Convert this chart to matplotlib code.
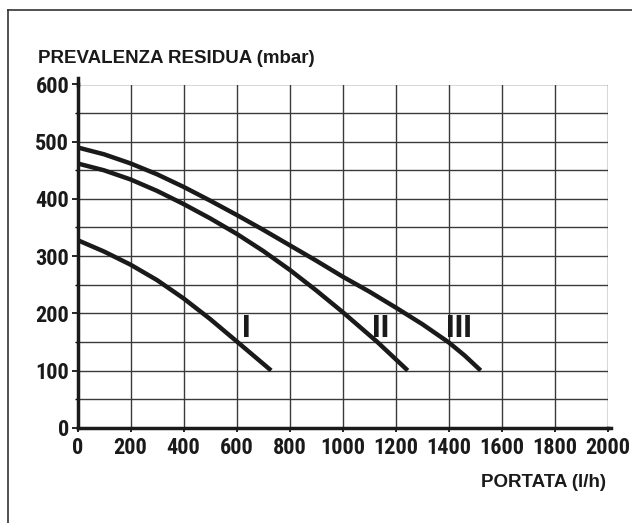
import matplotlib.pyplot as plt
from matplotlib.lines import Line2D
from matplotlib import font_manager as fm

# curve data (portata l/h, prevalenza mbar)
x_I = [0, 100, 200, 300, 400, 500, 600, 730]
y_I = [328, 308, 285, 258, 226, 190, 151, 100]

x_II = [0, 100, 200, 300, 400, 500, 600, 700, 800, 900, 1000, 1130, 1245]
y_II = [462, 450, 434, 414, 391, 366, 339, 309, 276, 240, 202, 150, 100]

x_III = [0, 100, 200, 300, 400, 500, 600, 700, 800, 900, 1000, 1100, 1200, 1300, 1400, 1460, 1520]
y_III = [490, 478, 462, 443, 421, 397, 372, 346, 319, 292, 264, 238, 210, 181, 149, 126, 100]

speed_labels = ["I", "II", "III"]
label_x = [636, 1143, 1438]
label_y = [174, 174, 174]

x_ticks = list(range(0, 2001, 200))
y_ticks = list(range(0, 601, 100))


def pick_narrow():
    # look for a condensed bold face among the installed fonts
    names = set(f.name for f in fm.fontManager.ttflist)
    for n in ["Liberation Sans Narrow", "Roboto Condensed", "Open Sans Condensed",
              "DejaVu Sans Condensed", "Noto Sans Condensed"]:
        if n in names:
            return dict(family=[n, "DejaVu Sans"], stretch="normal")
    for f in fm.fontManager.ttflist:
        if f.stretch in ("condensed", "semi-condensed", "extra-condensed") and f.weight in (600, 700, "bold"):
            return dict(family=[f.name, "DejaVu Sans"], stretch=f.stretch)
    return dict(family=["DejaVu Sans"], stretch="condensed")


nf = pick_narrow()
plain = ["Liberation Sans", "DejaVu Sans"]

fig = plt.figure(figsize=(6.32, 5.23), dpi=100)
ax = fig.add_axes([77.5 / 632, 1 - 427.7 / 523, (608 - 77.5) / 632, (427.7 - 84.5) / 523])

for xs, ys in [(x_I, y_I), (x_II, y_II), (x_III, y_III)]:
    ax.plot(xs, ys, color="#1a1a1a", lw=3.2, solid_capstyle="butt",
            solid_joinstyle="round", zorder=3)

for lab, lx, ly in zip(speed_labels, label_x, label_y):
    ax.text(lx, ly, lab, family=nf["family"], stretch=nf["stretch"], weight="bold",
            fontsize=23, ha="center", va="center", color="#1a1a1a")

ax.set_xlim(0, 2000)
ax.set_ylim(0, 600)
ax.set_xticks(x_ticks)
ax.set_yticks(y_ticks)
ax.set_yticks(range(0, 601, 50), minor=True)
ax.grid(True, which="major", color="#3a3a3a", lw=1.0)
ax.grid(True, which="minor", axis="y", color="#3a3a3a", lw=1.0)
ax.set_axisbelow(True)

for lab in ax.get_xticklabels() + ax.get_yticklabels():
    lab.set_family(nf["family"])
    lab.set_stretch(nf["stretch"])
    lab.set_weight("bold")
    lab.set_fontsize(16)
    lab.set_color("#1a1a1a")

ax.tick_params(axis="y", which="major", length=4.5, width=1.2, pad=1.5)
ax.tick_params(axis="y", which="minor", length=2.5, width=1.0)
ax.tick_params(axis="x", which="major", length=3, width=1.2, pad=4)
ax.tick_params(axis="x", which="minor", length=0)

for s in ["top", "right"]:
    ax.spines[s].set_visible(False)
for s in ["left", "bottom"]:
    ax.spines[s].set_linewidth(2.5)
    ax.spines[s].set_color("#1a1a1a")

# slight overshoot of the axis lines
ax.plot([0, 0], [1.0, 1.02], transform=ax.transAxes, color="#1a1a1a", lw=2.5, clip_on=False)
ax.plot([1.0, 1.006], [0, 0], transform=ax.transAxes, color="#1a1a1a", lw=2.5, clip_on=False)

fig.text(38 / 632, 1 - 63 / 523, "PREVALENZA RESIDUA (mbar)", family=plain,
         weight="bold", fontsize=13.5, ha="left", va="baseline", color="#1a1a1a")
fig.text(606 / 632, 1 - 487 / 523, "PORTATA (l/h)", family=plain,
         weight="bold", fontsize=13.5, ha="right", va="baseline", color="#1a1a1a")

# frame lines along top and left
fig.add_artist(Line2D([8 / 632, 1], [1 - 10 / 523, 1 - 10 / 523], color="#333333", lw=1.2))
fig.add_artist(Line2D([8 / 632, 8 / 632], [0, 1 - 10 / 523], color="#333333", lw=1.2))

fig.savefig("out.png", dpi=100)
